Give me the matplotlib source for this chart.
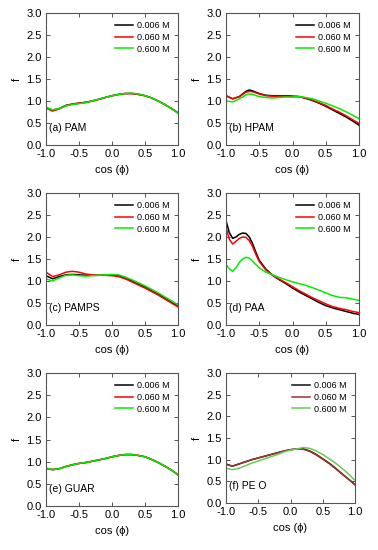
import numpy as np
import matplotlib
matplotlib.use("Agg")
import matplotlib.pyplot as plt

plt.rcParams['font.family'] = ['Liberation Sans', 'DejaVu Sans']
plt.rcParams['axes.unicode_minus'] = False

labels = ['0.006 M', '0.060 M', '0.600 M']
panel_names = ['(a) PAM', '(b) HPAM', '(c) PAMPS', '(d) PAA', '(e) GUAR', '(f) PE O']

x21 = [-1.0, -0.9, -0.8, -0.7, -0.6, -0.5, -0.4, -0.3, -0.2, -0.1, 0.0,
       0.1, 0.2, 0.3, 0.4, 0.5, 0.6, 0.7, 0.8, 0.9, 1.0]

# (a) PAM
pam_006 = [0.85, 0.79, 0.83, 0.90, 0.93, 0.95, 0.97, 1.00, 1.04, 1.08, 1.12,
           1.15, 1.17, 1.17, 1.15, 1.12, 1.07, 1.00, 0.92, 0.83, 0.73]
pam_060 = [0.84, 0.77, 0.82, 0.89, 0.93, 0.95, 0.97, 1.00, 1.04, 1.08, 1.12,
           1.15, 1.17, 1.17, 1.15, 1.12, 1.07, 1.00, 0.92, 0.83, 0.73]
pam_600 = [0.86, 0.80, 0.83, 0.89, 0.92, 0.94, 0.96, 1.00, 1.04, 1.08, 1.12,
           1.15, 1.17, 1.18, 1.16, 1.12, 1.07, 1.00, 0.92, 0.83, 0.72]

# (b) HPAM
x_b = [-1.0, -0.9, -0.8, -0.7, -0.65, -0.6, -0.5, -0.4, -0.3, -0.2, -0.1, 0.0,
       0.1, 0.2, 0.3, 0.4, 0.5, 0.6, 0.7, 0.8, 0.9, 1.0]
hpam_006 = [1.12, 1.05, 1.10, 1.22, 1.25, 1.23, 1.17, 1.13, 1.12, 1.12, 1.12, 1.11,
            1.10, 1.06, 1.01, 0.95, 0.88, 0.80, 0.72, 0.64, 0.55, 0.45]
hpam_060 = [1.12, 1.05, 1.10, 1.20, 1.22, 1.21, 1.16, 1.12, 1.11, 1.11, 1.11, 1.10,
            1.10, 1.06, 1.02, 0.96, 0.90, 0.82, 0.75, 0.67, 0.58, 0.49]
hpam_600 = [1.00, 0.98, 1.05, 1.14, 1.16, 1.15, 1.10, 1.08, 1.07, 1.08, 1.09, 1.09,
            1.10, 1.08, 1.05, 1.00, 0.95, 0.89, 0.83, 0.76, 0.68, 0.60]

# (c) PAMPS
pamps_006 = [1.12, 1.05, 1.10, 1.14, 1.15, 1.14, 1.13, 1.13, 1.13, 1.14, 1.14,
             1.12, 1.07, 1.00, 0.93, 0.86, 0.78, 0.70, 0.61, 0.52, 0.43]
pamps_060 = [1.20, 1.10, 1.14, 1.20, 1.22, 1.20, 1.16, 1.14, 1.13, 1.13, 1.12,
             1.10, 1.05, 0.98, 0.91, 0.84, 0.76, 0.68, 0.59, 0.50, 0.41]
pamps_600 = [1.05, 1.00, 1.07, 1.13, 1.14, 1.12, 1.11, 1.12, 1.13, 1.14, 1.15,
             1.14, 1.09, 1.03, 0.96, 0.89, 0.81, 0.73, 0.64, 0.55, 0.46]

# (d) PAA
x_d = [-1.0, -0.95, -0.9, -0.85, -0.8, -0.75, -0.7, -0.65, -0.6, -0.55, -0.5,
       -0.4, -0.3, -0.2, -0.1, 0.0, 0.1, 0.2, 0.3, 0.4, 0.5, 0.6, 0.7, 0.8, 0.9, 1.0]
paa_006 = [2.37, 2.10, 1.97, 2.00, 2.06, 2.09, 2.08, 2.00, 1.85, 1.65, 1.47,
           1.27, 1.13, 1.03, 0.94, 0.84, 0.75, 0.67, 0.59, 0.51, 0.44, 0.39, 0.35, 0.31, 0.27, 0.24]
paa_060 = [2.22, 1.95, 1.84, 1.90, 1.97, 2.00, 1.99, 1.92, 1.78, 1.60, 1.44,
           1.25, 1.13, 1.04, 0.96, 0.87, 0.78, 0.70, 0.62, 0.55, 0.48, 0.42, 0.38, 0.35, 0.31, 0.28]
paa_600 = [1.37, 1.28, 1.22, 1.30, 1.42, 1.50, 1.54, 1.52, 1.45, 1.37, 1.30,
           1.20, 1.14, 1.08, 1.03, 0.98, 0.94, 0.90, 0.85, 0.79, 0.73, 0.67, 0.63, 0.62, 0.59, 0.56]

# (e) GUAR
guar_006 = [0.85, 0.82, 0.84, 0.89, 0.93, 0.96, 0.98, 1.01, 1.04, 1.07, 1.11,
            1.14, 1.16, 1.16, 1.14, 1.11, 1.05, 0.98, 0.90, 0.81, 0.70]
guar_060 = [0.85, 0.82, 0.84, 0.89, 0.93, 0.96, 0.98, 1.01, 1.04, 1.07, 1.11,
            1.14, 1.16, 1.16, 1.14, 1.11, 1.05, 0.98, 0.90, 0.81, 0.71]
guar_600 = [0.85, 0.82, 0.84, 0.89, 0.93, 0.96, 0.98, 1.01, 1.04, 1.07, 1.11,
            1.14, 1.16, 1.16, 1.14, 1.11, 1.05, 0.98, 0.90, 0.81, 0.70]

# (f) PEO
peo_006 = [0.90, 0.85, 0.90, 0.95, 1.00, 1.04, 1.08, 1.12, 1.16, 1.20, 1.23,
           1.25, 1.25, 1.20, 1.12, 1.02, 0.92, 0.80, 0.67, 0.55, 0.42]
peo_060 = [0.89, 0.85, 0.90, 0.95, 1.00, 1.04, 1.08, 1.12, 1.16, 1.20, 1.23,
           1.25, 1.24, 1.19, 1.11, 1.01, 0.91, 0.79, 0.67, 0.55, 0.43]
peo_600 = [0.80, 0.77, 0.80, 0.86, 0.92, 0.97, 1.02, 1.07, 1.12, 1.18, 1.22,
           1.25, 1.28, 1.26, 1.20, 1.12, 1.02, 0.92, 0.80, 0.67, 0.52]

panels = [
    (x21, [pam_006, pam_060, pam_600]),
    (x_b, [hpam_006, hpam_060, hpam_600]),
    (x21, [pamps_006, pamps_060, pamps_600]),
    (x_d, [paa_006, paa_060, paa_600]),
    (x21, [guar_006, guar_060, guar_600]),
    (x21, [peo_006, peo_060, peo_600]),
]

W, H = 378, 550
# axes boxes in pixels: left, top, right, bottom
boxes = [(46, 13, 178, 145), (226, 13, 359, 145),
         (46, 193, 178, 325), (226, 193, 359, 325),
         (46, 373, 178, 506), (226, 373, 355, 503)]

colors_std = ['black', '#ff0000', '#00ee00']
colors_f = ['#111111', '#a0302a', '#66cc55']

fig = plt.figure(figsize=(W / 100, H / 100), dpi=100)

for i, ((xs, ys), box, name) in enumerate(zip(panels, boxes, panel_names)):
    l, t, r, b = box
    ax = fig.add_axes([l / W, (H - b) / H, (r - l) / W, (b - t) / H])
    cols = colors_f if i == 5 else colors_std
    for y, c, lab in zip(ys, cols, labels):
        ax.plot(xs, y, color=c, lw=1.1, label=lab)
    ax.set_xlim(-1, 1)
    ax.set_ylim(0, 3)
    ax.set_xticks(np.arange(-1, 1.01, 0.5))
    ax.set_yticks(np.arange(0, 3.01, 0.5))
    ax.set_xticklabels(['-1.0', '-0.5', '0.0', '0.5', '1.0'])
    ax.set_yticklabels(['0.0', '0.5', '1.0', '1.5', '2.0', '2.5', '3.0'])
    ax.tick_params(direction='in', length=3, width=0.7, top=True, right=True,
                   labelsize=8, color='#555555', pad=3)
    for s in ax.spines.values():
        s.set_color('#555555')
        s.set_linewidth(0.8)
    ax.set_xlabel('cos (ϕ)', fontsize=8, labelpad=4)
    ax.set_ylabel('f', fontsize=8, labelpad=3)
    ax.text(0.02, 0.13, name, transform=ax.transAxes, fontsize=7.5,
            ha='left', va='center')
    ax.legend(loc='upper right', frameon=False, fontsize=6.5, handlelength=2.0,
              handletextpad=0.5, labelspacing=0.3, borderaxespad=0.5)

fig.savefig('out.png', dpi=100)
